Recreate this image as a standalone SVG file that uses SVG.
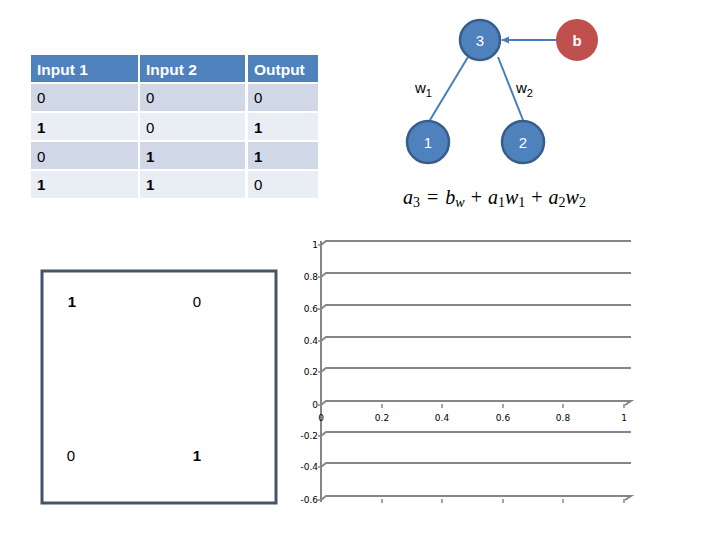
<svg xmlns="http://www.w3.org/2000/svg" width="720" height="540" viewBox="0 0 720 540">
<style>
.t{font-family:"Liberation Sans",Arial,sans-serif;font-size:15px;fill:#000}
.b{font-weight:bold}
.h{font-family:"Liberation Sans",Arial,sans-serif;font-size:15.5px;font-weight:bold;fill:#fff}
.odd{fill:#D0D8E8}
.even{fill:#E9EDF4}
.node{fill:#4F81BD;stroke:#385D8A;stroke-width:2.5}
.nt{font-family:"Liberation Sans",Arial,sans-serif;font-size:15px;fill:#fff;text-anchor:middle}
.edge{stroke:#4A7EBB;stroke-width:2;fill:none}
.grid{stroke:#868686;stroke-width:2;fill:none}
.ax{font-family:"DejaVu Sans",sans-serif;font-size:9px;fill:#000}
.eq{font-family:"Liberation Serif",serif;font-size:20px;fill:#000}
</style>
<defs>
<marker id="arr" markerWidth="8" markerHeight="8" refX="7" refY="4" orient="auto" markerUnits="userSpaceOnUse">
<path d="M0,0.5 L8,4 L0,7.5 z" fill="#4A7EBB"/>
</marker>
</defs>
<rect width="720" height="540" fill="#fff"/>

<g id="table">
<rect x="31" y="55" width="107" height="27" fill="#4F81BD"/>
<rect x="140" y="55" width="105" height="27" fill="#4F81BD"/>
<rect x="248" y="55" width="70" height="27" fill="#4F81BD"/>
<rect x="31" y="84" width="107" height="27" class="odd"/>
<rect x="140" y="84" width="105" height="27" class="odd"/>
<rect x="248" y="84" width="70" height="27" class="odd"/>
<rect x="31" y="113" width="107" height="27" class="even"/>
<rect x="140" y="113" width="105" height="27" class="even"/>
<rect x="248" y="113" width="70" height="27" class="even"/>
<rect x="31" y="142" width="107" height="27" class="odd"/>
<rect x="140" y="142" width="105" height="27" class="odd"/>
<rect x="248" y="142" width="70" height="27" class="odd"/>
<rect x="31" y="171" width="107" height="27" class="even"/>
<rect x="140" y="171" width="105" height="27" class="even"/>
<rect x="248" y="171" width="70" height="27" class="even"/>
<text class="h" x="37" y="75">Input 1</text>
<text class="h" x="146" y="75">Input 2</text>
<text class="h" x="254" y="75">Output</text>
<text class="t" x="37" y="103">0</text><text class="t" x="146" y="103">0</text><text class="t" x="254" y="103">0</text>
<text class="t b" x="37" y="133">1</text><text class="t" x="146" y="133">0</text><text class="t b" x="254" y="133">1</text>
<text class="t" x="37" y="162">0</text><text class="t b" x="146" y="162">1</text><text class="t b" x="254" y="162">1</text>
<text class="t b" x="37" y="190">1</text><text class="t b" x="146" y="190">1</text><text class="t" x="254" y="190">0</text>
</g>

<g id="connectors">
<line class="edge" x1="557" y1="40" x2="502" y2="40" marker-end="url(#arr)"/>
<line class="edge" x1="430" y1="120" x2="468" y2="57"/>
<line class="edge" x1="523" y1="120" x2="498" y2="57"/>
</g>

<g id="node-3">
<circle class="node" cx="480" cy="40" r="20"/>
<text class="nt" x="480" y="46">3</text>
</g>
<g id="node-b">
<circle cx="577" cy="40" r="20" fill="#C0504D" stroke="#C0504D" stroke-width="2"/>
<text class="nt" x="577" y="46" font-weight="bold">b</text>
</g>
<g id="node-1">
<circle class="node" cx="428" cy="142" r="21"/>
<text class="nt" x="428" y="148">1</text>
</g>
<g id="node-2">
<circle class="node" cx="523" cy="142" r="21"/>
<text class="nt" x="523" y="148">2</text>
</g>
<text class="t" x="415" y="93" font-size="16">w<tspan font-size="11" dy="4">1</tspan></text>
<text class="t" x="516" y="93" font-size="16">w<tspan font-size="11" dy="4">2</tspan></text>

<text class="eq" x="403" y="204"><tspan font-style="italic">a</tspan><tspan font-size="14" dy="3">3</tspan><tspan dy="-3" dx="7">=</tspan><tspan font-style="italic" dx="7">b</tspan><tspan font-size="14" dy="3" font-style="italic">w</tspan><tspan dy="-3" dx="6">+</tspan><tspan font-style="italic" dx="6">a</tspan><tspan font-size="14" dy="3">1</tspan><tspan dy="-3" font-style="italic">w</tspan><tspan font-size="14" dy="3">1</tspan><tspan dy="-3" dx="6">+</tspan><tspan font-style="italic" dx="6">a</tspan><tspan font-size="14" dy="3">2</tspan><tspan dy="-3" font-style="italic">w</tspan><tspan font-size="14" dy="3">2</tspan></text>

<g id="chart">
<path class="grid" d="M321,245 L326,241 L631,241"/>
<path class="grid" d="M321,277 L326,273 L631,273"/>
<path class="grid" d="M321,309 L326,305 L631,305"/>
<path class="grid" d="M321,341 L326,337 L631,337"/>
<path class="grid" d="M321,372 L326,368 L631,368"/>
<path class="grid" d="M321,405 L326,401 L631,401 L625,405"/>
<path class="grid" d="M321,436 L326,432 L631,432"/>
<path class="grid" d="M321,467 L326,463 L631,463"/>
<path class="grid" d="M321,500 L326,496 L631,496 L625,500"/>
<line class="grid" x1="321" y1="241" x2="321" y2="502"/>
<g stroke="#868686" stroke-width="1.5">
<line x1="318" y1="245" x2="321" y2="245"/><line x1="318" y1="277" x2="321" y2="277"/>
<line x1="318" y1="309" x2="321" y2="309"/><line x1="318" y1="341" x2="321" y2="341"/>
<line x1="318" y1="372" x2="321" y2="372"/><line x1="318" y1="405" x2="321" y2="405"/>
<line x1="318" y1="436" x2="321" y2="436"/><line x1="318" y1="467" x2="321" y2="467"/>
<line x1="318" y1="500" x2="321" y2="500"/>
<line x1="382" y1="404" x2="382" y2="408"/><line x1="442" y1="404" x2="442" y2="408"/>
<line x1="503" y1="404" x2="503" y2="408"/><line x1="563" y1="404" x2="563" y2="408"/>
<line x1="624" y1="404" x2="624" y2="408"/>
<line x1="382" y1="499" x2="382" y2="503"/><line x1="442" y1="499" x2="442" y2="503"/>
<line x1="503" y1="499" x2="503" y2="503"/><line x1="563" y1="499" x2="563" y2="503"/>
<line x1="624" y1="499" x2="624" y2="503"/>
</g>
<g class="ax" text-anchor="end">
<text x="318" y="248">1</text><text x="318" y="280">0.8</text>
<text x="318" y="312">0.6</text><text x="318" y="344">0.4</text>
<text x="318" y="375">0.2</text><text x="318" y="408">0</text>
<text x="318" y="439">-0.2</text><text x="318" y="470">-0.4</text>
<text x="318" y="503">-0.6</text>
</g>
<g class="ax" text-anchor="middle">
<text x="321" y="421">0</text><text x="382" y="421">0.2</text>
<text x="442" y="421">0.4</text><text x="503" y="421">0.6</text>
<text x="563" y="421">0.8</text><text x="624" y="421">1</text>
</g>
</g>

<g id="box">
<rect x="42" y="271" width="234" height="232" fill="none" stroke="#44546A" stroke-width="3"/>
<text class="t b" x="72" y="307" text-anchor="middle">1</text>
<text class="t" x="197" y="307" text-anchor="middle">0</text>
<text class="t" x="71" y="461" text-anchor="middle">0</text>
<text class="t b" x="197" y="461" text-anchor="middle">1</text>
</g>
</svg>
